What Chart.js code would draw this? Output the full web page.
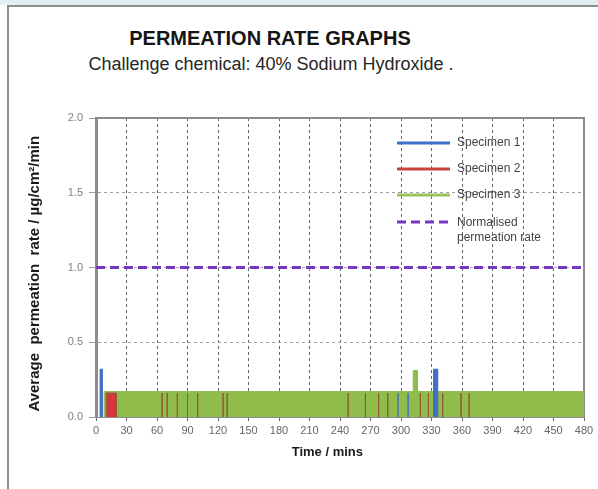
<!DOCTYPE html>
<html>
<head>
<meta charset="utf-8">
<script src="https://cdn.jsdelivr.net/npm/chart.js@4.4.0/dist/chart.umd.min.js"></script>
<style>
body { margin: 0; background: #fff; font-family: "Liberation Sans", Arial, sans-serif; }
#page { position: relative; width: 598px; height: 489px; overflow: hidden; background: #fff; }
#band { position: absolute; left: 0; top: 0; width: 598px; height: 5px; background: #e3eef2; }
#frame { position: absolute; left: 7px; top: 5px; width: 640px; height: 540px; border-left: 2px solid #8e8e8e; border-top: 2px solid #8e8e8e; }
#title { position: absolute; left: 0; width: 540px; top: 27px; text-align: center; font-weight: bold; font-size: 20px; color: #151515; }
#subtitle { position: absolute; left: 0; width: 542px; top: 54px; text-align: center; font-size: 18px; color: #262626; }
#wrap { position: absolute; left: 0; top: 0; width: 598px; height: 489px; }
</style>
</head>
<body>
<div id="page">
  <div id="band"></div>
  <div id="frame"></div>
  <div id="title">PERMEATION RATE GRAPHS</div>
  <div id="subtitle">Challenge chemical: 40% Sodium Hydroxide .</div>
  <div id="wrap"><canvas id="chart"></canvas></div>
</div>
<script>
// tick labels
var timeTicks = [0, 30, 60, 90, 120, 150, 180, 210, 240, 270, 300, 330, 360, 390, 420, 450, 480];
var rateTicks = [0.0, 0.5, 1.0, 1.5, 2.0];

// each specimen is a list of pulses: start minute, end minute, rate
var spec1Start = [4, 297, 307, 332];
var spec1End   = [6, 297, 307, 336];
var spec1Rate  = [0.32, 0.16, 0.16, 0.32];

var spec2Start = [10, 65, 70, 80, 90, 100, 125, 129, 248, 265, 278, 287, 319, 327, 341, 359, 367];
var spec2End   = [20, 65, 70, 80, 90, 100, 125, 129, 248, 265, 278, 287, 319, 327, 341, 359, 367];
var spec2Rate  = [0.16, 0.16, 0.16, 0.16, 0.16, 0.16, 0.16, 0.16, 0.16, 0.16, 0.16, 0.16, 0.16, 0.16, 0.16, 0.16, 0.16];

var spec3Start = [8, 312];
var spec3End   = [480, 316];
var spec3Rate  = [0.17, 0.31];

var normTime = [0, 480];
var normRate = [1.0, 1.0];

var legendNames = ['Specimen 1', 'Specimen 2', 'Specimen 3', ['Normalised', 'permeation rate']];
var legendColors = ['#3d6fce', '#c9423c', '#9cc45a', '#7636c4'];

function pulses(starts, ends, rates) {
    var pts = [];
    for (var i = 0; i < starts.length; i++) {
        pts.push({x: starts[i], y: 0});
        pts.push({x: starts[i], y: rates[i]});
        pts.push({x: ends[i], y: rates[i]});
        pts.push({x: ends[i], y: 0});
        pts.push({x: ends[i], y: null});
    }
    return pts;
}

function pairs(xs, ys) {
    var pts = [];
    for (var i = 0; i < xs.length; i++) pts.push({x: xs[i], y: ys[i]});
    return pts;
}

// legend drawn inside the plot, top right
var insideLegend = {
    id: 'insideLegend',
    afterDraw: function(chart) {
        var ctx = chart.ctx;
        var rows = [143, 169, 195, 222];
        ctx.save();
        ctx.font = '12px "Liberation Sans", Arial, sans-serif';
        ctx.textBaseline = 'middle';
        ctx.fillStyle = '#444';
        for (var i = 0; i < chart.data.datasets.length; i++) {
            var ds = chart.data.datasets[i];
            ctx.strokeStyle = legendColors[i];
            ctx.lineWidth = 3;
            ctx.setLineDash(ds.borderDash || []);
            ctx.beginPath();
            ctx.moveTo(397, rows[i]);
            ctx.lineTo(450, rows[i]);
            ctx.stroke();
            var name = legendNames[i];
            if (Array.isArray(name)) {
                ctx.fillText(name[0], 457, rows[i] + 1);
                ctx.fillText(name[1], 457, rows[i] + 16);
            } else {
                ctx.fillText(name, 457, rows[i]);
            }
        }
        ctx.restore();
    }
};

var ctx = document.getElementById('chart').getContext('2d');
var chart = new Chart(ctx, {
    type: 'line',
    data: {
        datasets: [
            { label: 'Specimen 1', data: pulses(spec1Start, spec1End, spec1Rate), borderColor: '#4470c4', backgroundColor: '#4470c4', borderWidth: 1, fill: 'origin', pointRadius: 0 },
            { label: 'Specimen 2', data: pulses(spec2Start, spec2End, spec2Rate), borderColor: '#8e5a36', backgroundColor: '#d8363a', borderWidth: 1, fill: 'origin', pointRadius: 0 },
            { label: 'Specimen 3', data: pulses(spec3Start, spec3End, spec3Rate), borderColor: '#90bc4c', backgroundColor: '#90bc4c', borderWidth: 1, fill: 'origin', pointRadius: 0 },
            { label: 'Normalised permeation rate', data: pairs(normTime, normRate), borderColor: '#7636c4', borderWidth: 3, borderDash: [9, 5], fill: false, pointRadius: 0 }
        ]
    },
    options: {
        responsive: true,
        maintainAspectRatio: false,
        animation: false,
        layout: { padding: { left: 22, top: 118, right: 14, bottom: 25 } },
        plugins: { legend: { display: false }, tooltip: { enabled: false } },
        scales: {
            x: {
                type: 'linear', min: 0, max: 480,
                afterBuildTicks: function(s) { s.ticks = timeTicks.map(function(v) { return {value: v}; }); },
                afterFit: function(s) { s.height = 47; },
                ticks: { font: { size: 11 }, color: '#666', padding: 3, maxRotation: 0, autoSkip: false },
                grid: { color: '#666', tickLength: 4 },
                border: { color: '#8c8c8c', width: 1, dash: [3, 3] },
                title: { display: true, text: 'Time / mins       ', font: { size: 13, weight: 'bold' }, color: '#1a1a1a' }
            },
            y: {
                min: 0, max: 2,
                afterBuildTicks: function(s) { s.ticks = rateTicks.map(function(v) { return {value: v}; }); },
                afterFit: function(s) { s.width = 74; },
                ticks: { font: { size: 11 }, color: '#808080', padding: 6, callback: function(v) { return v.toFixed(1); } },
                grid: { color: '#a0a0a0', tickLength: 7 },
                border: { color: '#8c8c8c', width: 3, dash: [3, 3] },
                title: { display: true, text: 'Average  permeation  rate / µg/cm²/min   ', font: { size: 15, weight: 'bold' }, color: '#1a1a1a' }
            },
            xTop: {
                type: 'linear', position: 'top', min: 0, max: 480,
                afterFit: function(s) { s.height = 0; },
                ticks: { display: false },
                grid: { display: false, drawTicks: false },
                border: { color: '#8c8c8c', width: 2 }
            },
            yRight: {
                type: 'linear', position: 'right', min: 0, max: 2,
                afterFit: function(s) { s.width = 0; },
                ticks: { display: false },
                grid: { display: false, drawTicks: false },
                border: { color: '#8c8c8c', width: 2 }
            }
        }
    },
    plugins: [insideLegend]
});
</script>
</body>
</html>
